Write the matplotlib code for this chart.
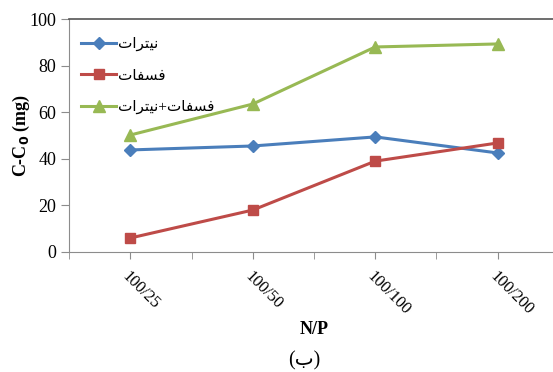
import numpy as np
import matplotlib
matplotlib.use('Agg')
import matplotlib.pyplot as plt

# categories (N/P ratio) and measured values
categories = ['100/25', '100/50', '100/100', '100/200']
nitrate = [43.8, 45.5, 49.4, 42.5]
phosphate = [6.0, 18.0, 39.0, 46.8]
nitrate_phosphate = [50.2, 63.5, 88.0, 89.3]

# Persian labels written in shaped presentation forms (visual order),
# since matplotlib does no Arabic shaping on its own
lbl_nitrate = '\uFE95\uFE8D\uFEAE\uFE98\uFEF4\uFEE7'
lbl_phosphate = '\uFE95\uFE8E\uFED4\uFEB4\uFED3'
lbl_both = lbl_nitrate + '+' + lbl_phosphate
lbl_b = '(\uFE8F)'

serif = ['Liberation Serif', 'DejaVu Sans']
grey = '#8c8c8c'

fig = plt.figure(figsize=(5.53, 3.72), dpi=100)
ax = fig.add_axes([0.1248, 0.3226, 0.886, 0.6263])

x = np.arange(1, len(categories) + 1)
ax.plot(x, nitrate, color='#4a7ebb', lw=2.2, marker='D', ms=6.5, label=lbl_nitrate)
ax.plot(x, phosphate, color='#be4b48', lw=2.2, marker='s', ms=7.5, label=lbl_phosphate)
ax.plot(x, nitrate_phosphate, color='#98b954', lw=2.2, marker='^', ms=8.5, label=lbl_both)

ax.set_xlim(0.5, 4.5)
ax.set_ylim(0, 100)
ax.set_yticks(np.arange(0, 101, 20))
ax.set_xticks(x)
ax.set_xticks(np.arange(0.5, 4.6, 0.5), minor=True)
ax.set_xticklabels(categories, rotation=-45, ha='left', va='top',
                   rotation_mode='anchor', fontsize=12, family=serif)
for t in ax.get_yticklabels():
    t.set_family(serif)
    t.set_fontsize(13)

ax.tick_params(axis='x', which='both', length=5, color=grey, pad=7)
ax.tick_params(axis='y', length=6, color=grey, pad=3)

ax.spines['right'].set_visible(False)
for side in ['left', 'bottom']:
    ax.spines[side].set_color(grey)
ax.spines['top'].set_color('#555555')
ax.spines['top'].set_linewidth(1.2)

ax.set_ylabel('C-C$_\\mathbf{0}$ (mg)', family=serif, fontweight='bold', fontsize=13, labelpad=-2)
ax.set_xlabel('N/P', family=serif, fontweight='bold', fontsize=13, labelpad=2)

leg = ax.legend(loc='upper left', bbox_to_anchor=(0.0, 0.975), frameon=False,
                prop={'family': serif, 'size': 11}, handlelength=2.3,
                labelspacing=1.15, handletextpad=0.1, borderaxespad=0.4)

fig.text(0.55, 0.03, lbl_b, ha='center', va='center', fontsize=14.5, family=serif)

fig.savefig('out.png', dpi=100)
